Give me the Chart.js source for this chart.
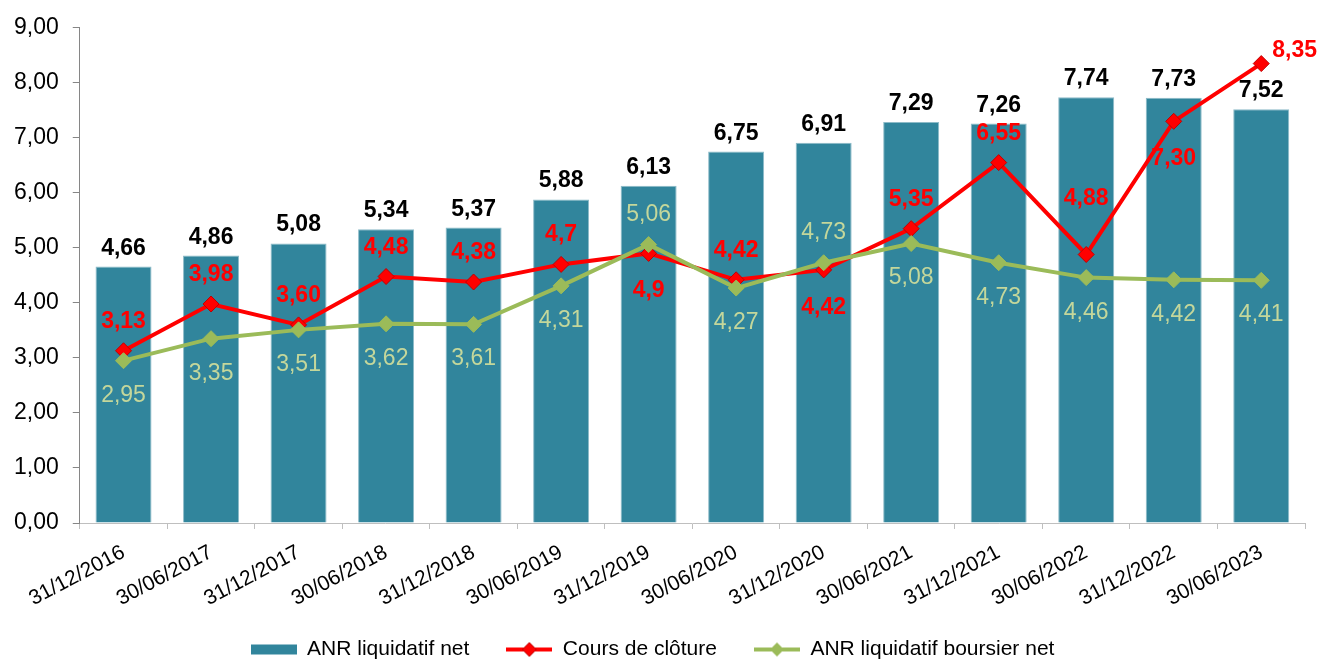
<!DOCTYPE html>
<html>
<head>
<meta charset="utf-8">
<title>ANR et cours</title>
<script src="https://cdn.jsdelivr.net/npm/chart.js@4/dist/chart.umd.min.js"></script>
<style>
    html, body { margin: 0; padding: 0; background: #fff; }
    #wrap { width: 1320px; height: 659px; }
</style>
</head>
<body>
<div id="wrap"><canvas id="anrChart"></canvas></div>
<script>
const categories = ['31/12/2016', '30/06/2017', '31/12/2017', '30/06/2018', '31/12/2018', '30/06/2019', '31/12/2019',
    '30/06/2020', '31/12/2020', '30/06/2021', '31/12/2021', '30/06/2022', '31/12/2022', '30/06/2023'];
const anrNet = [4.66, 4.86, 5.08, 5.34, 5.37, 5.88, 6.13, 6.75, 6.91, 7.29, 7.26, 7.74, 7.73, 7.52];
const coursCloture = [3.13, 3.98, 3.60, 4.48, 4.38, 4.70, 4.90, 4.42, 4.60, 5.35, 6.55, 4.88, 7.30, 8.35];
// labels as printed on the source chart (some differ from the plotted point)
const coursLabels = ['3,13', '3,98', '3,60', '4,48', '4,38', '4,7', '4,9', '4,42', '4,42', '5,35', '6,55', '4,88', '7,30', '8,35'];
const anrBoursier = [2.95, 3.35, 3.51, 3.62, 3.61, 4.31, 5.06, 4.27, 4.73, 5.08, 4.73, 4.46, 4.42, 4.41];
const yTicks = [0, 1, 2, 3, 4, 5, 6, 7, 8, 9];

// where each line label sits relative to its point
const coursPlacement = ['above', 'above', 'above', 'above', 'above', 'above', 'below', 'above', 'below', 'above', 'above', 'high', 'below', 'right'];
const boursierPlacement = ['below', 'below', 'below', 'below', 'below', 'below', 'above', 'below', 'above', 'below', 'below', 'below', 'below', 'below'];

const FONT = '"Liberation Sans", Arial, sans-serif';
const TEAL = '#31859C';
const RED = '#FF0000';
const GREEN = '#9BBB59';
const LIGHT_GREEN = '#C4D79B';

const fmt = v => v.toFixed(2).replace('.', ',');

// small legend icons (bar swatch / line with diamond)
function legendIcon(kind, color, border) {
    const c = document.createElement('canvas');
    c.width = 46;
    c.height = 20;
    const g = c.getContext('2d');
    if (kind === 'bar') {
        g.fillStyle = color;
        g.fillRect(0, 5, 46, 10);
    } else {
        g.strokeStyle = color;
        g.lineWidth = 4;
        g.beginPath();
        g.moveTo(0, 10);
        g.lineTo(46, 10);
        g.stroke();
        g.fillStyle = color;
        g.beginPath();
        g.moveTo(23, 3);
        g.lineTo(30, 10);
        g.lineTo(23, 17);
        g.lineTo(16, 10);
        g.closePath();
        g.fill();
        if (border) {
            g.strokeStyle = border;
            g.lineWidth = 1;
            g.stroke();
        }
    }
    return c;
}

const offsets = {
    above: { dx: 0, dy: -23, align: 'center' },
    below: { dx: 0, dy: 44, align: 'center' },
    high: { dx: 0, dy: -49, align: 'center' },
    right: { dx: 11, dy: -7, align: 'left' }
};
const greenOffsets = {
    above: { dx: 0, dy: -24, align: 'center' },
    below: { dx: 0, dy: 41, align: 'center' }
};

const valueLabels = {
    id: 'valueLabels',
    afterDatasetsDraw(chart) {
        const ctx = chart.ctx;
        ctx.save();
        ctx.textBaseline = 'alphabetic';

        // bar values
        ctx.font = 'bold 23px ' + FONT;
        ctx.fillStyle = '#000';
        ctx.textAlign = 'center';
        chart.getDatasetMeta(0).data.forEach((bar, i) => {
            ctx.fillText(fmt(anrNet[i]), bar.x, bar.y - 12);
        });

        // closing price
        ctx.font = 'bold 23px ' + FONT;
        ctx.fillStyle = RED;
        chart.getDatasetMeta(1).data.forEach((pt, i) => {
            const o = offsets[coursPlacement[i]];
            ctx.textAlign = o.align;
            ctx.fillText(coursLabels[i], pt.x + o.dx, pt.y + o.dy);
        });

        // stock-market NAV
        ctx.font = '23px ' + FONT;
        ctx.fillStyle = LIGHT_GREEN;
        chart.getDatasetMeta(2).data.forEach((pt, i) => {
            const o = greenOffsets[boursierPlacement[i]];
            ctx.textAlign = o.align;
            ctx.fillText(fmt(anrBoursier[i]), pt.x + o.dx, pt.y + o.dy);
        });
        ctx.restore();
    }
};

const legendIcons = [
    legendIcon('bar', TEAL),
    legendIcon('line', RED, '#C00000'),
    legendIcon('line', GREEN)
];
// trailing gap after each legend text except the last one
const legendGap = '      ';

const ctx = document.getElementById('anrChart').getContext('2d');
const anrChart = new Chart(ctx, {
    type: 'bar',
    data: {
        labels: categories,
        datasets: [
            {
                label: 'ANR liquidatif net',
                data: anrNet,
                backgroundColor: TEAL,
                borderColor: '#8DBBC8',
                borderWidth: 1,
                categoryPercentage: 1,
                barPercentage: 0.64,
                order: 3
            },
            {
                type: 'line',
                label: 'Cours de clôture',
                data: coursCloture,
                borderColor: RED,
                borderWidth: 4,
                pointStyle: 'rectRot',
                pointRadius: 8,
                pointBackgroundColor: RED,
                pointBorderColor: '#C00000',
                pointBorderWidth: 1,
                tension: 0,
                order: 2
            },
            {
                type: 'line',
                label: 'ANR liquidatif boursier net',
                data: anrBoursier,
                borderColor: GREEN,
                borderWidth: 4,
                pointStyle: 'rectRot',
                pointRadius: 8,
                pointBackgroundColor: GREEN,
                pointBorderColor: GREEN,
                pointBorderWidth: 1,
                tension: 0,
                order: 1
            }
        ]
    },
    options: {
        responsive: true,
        maintainAspectRatio: false,
        animation: false,
        layout: {
            padding: { top: 4, left: 0, right: 15, bottom: -11 }
        },
        scales: {
            x: {
                grid: {
                    offset: true,
                    drawOnChartArea: false,
                    tickLength: 6,
                    color: '#BFBFBF'
                },
                border: { color: '#BFBFBF', width: 1 },
                ticks: {
                    autoSkip: false,
                    minRotation: 28,
                    maxRotation: 28,
                    padding: 11,
                    color: '#000',
                    font: { family: FONT, size: 21 }
                },
                afterFit: scale => { scale.height = 114; }
            },
            y: {
                min: 0,
                max: 9,
                afterBuildTicks: scale => {
                    scale.ticks = yTicks.map(v => ({ value: v }));
                },
                grid: {
                    drawOnChartArea: false,
                    tickLength: 7,
                    color: '#868686'
                },
                border: { color: '#868686', width: 1 },
                ticks: {
                    padding: 14,
                    color: '#000',
                    font: { family: FONT, size: 23 },
                    callback: value => fmt(value)
                }
            }
        },
        plugins: {
            tooltip: { enabled: false },
            legend: {
                position: 'bottom',
                labels: {
                    usePointStyle: true,
                    pointStyleWidth: 46,
                    padding: 2,
                    color: '#000',
                    font: { family: FONT, size: 21 },
                    generateLabels: chart => chart.data.datasets.map((ds, i, all) => ({
                        text: i < all.length - 1 ? ds.label + legendGap : ds.label,
                        pointStyle: legendIcons[i],
                        fillStyle: 'transparent',
                        strokeStyle: 'transparent',
                        lineWidth: 0,
                        hidden: false,
                        datasetIndex: i
                    }))
                }
            }
        }
    },
    plugins: [valueLabels]
});
</script>
</body>
</html>
